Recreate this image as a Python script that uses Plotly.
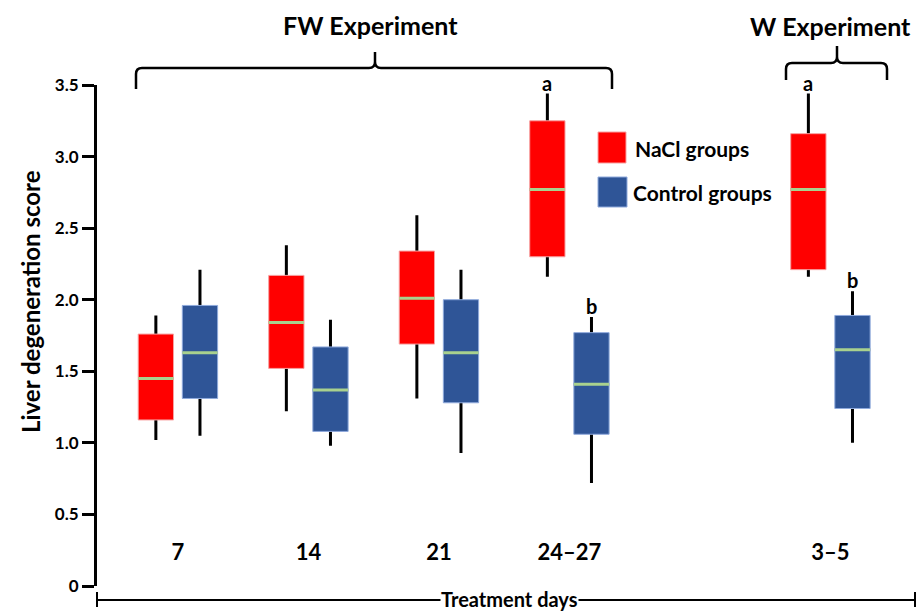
import plotly.graph_objects as go

# ---------------- data ----------------
days = ["7", "14", "21", "24–27", "3–5"]
day_pos = [0, 1, 2, 3, 5]

nacl_min = [1.02, 1.22, 1.31, 2.16, 2.16]
nacl_q1 = [1.16, 1.52, 1.69, 2.30, 2.21]
nacl_med = [1.45, 1.84, 2.01, 2.77, 2.77]
nacl_q3 = [1.76, 2.17, 2.34, 3.25, 3.16]
nacl_max = [1.89, 2.38, 2.59, 3.44, 3.44]

ctrl_min = [1.05, 0.98, 0.93, 0.72, 1.00]
ctrl_q1 = [1.31, 1.08, 1.28, 1.06, 1.24]
ctrl_med = [1.63, 1.37, 1.63, 1.41, 1.65]
ctrl_q3 = [1.96, 1.67, 2.00, 1.77, 1.89]
ctrl_max = [2.21, 1.86, 2.21, 1.88, 2.06]

nacl_letters = ["", "", "", "a", "a"]
ctrl_letters = ["", "", "", "b", "b"]

y_ticks = [0, 0.5, 1.0, 1.5, 2.0, 2.5, 3.0, 3.5]
y_ticktext = ["0", "0.5", "1.0", "1.5", "2.0", "2.5", "3.0", "3.5"]

# ---------------- style ----------------
FONT = "Lato"
RED = "#FF0000"
RED_EDGE = "#F7A1A1"
BLUE = "#2F5597"
BLUE_EDGE = "#8FAADC"
MED = "#A9D18E"
BOXGAP = 0.324
BOXGROUPGAP = 0.2

W, H = 920, 613
ML, MR, MT, MB = 97, 5, 85, 27
PW, PH = W - ML - MR, H - MT - MB


def px(xp):
    return (xp - ML) / PW


def py(yp):
    return (H - MB - yp) / PH


fig = go.Figure()


def add_group(mn, q1, med, q3, mx, fill, edge, og):
    common = dict(x=day_pos, offsetgroup=og, hoverinfo="skip", showlegend=False,
                  boxpoints=False, whiskerwidth=0)
    # whiskers
    fig.add_trace(go.Box(q1=med, median=med, q3=med, lowerfence=mn, upperfence=mx,
                         line=dict(color="black", width=3), fillcolor=fill, **common))
    # box body
    fig.add_trace(go.Box(q1=q1, median=med, q3=q3, lowerfence=q1, upperfence=q3,
                         line=dict(color=edge, width=1), fillcolor=fill, **common))
    # median line
    fig.add_trace(go.Box(q1=med, median=med, q3=med, lowerfence=med, upperfence=med,
                         line=dict(color=MED, width=3), fillcolor=MED, **common))


add_group(nacl_min, nacl_q1, nacl_med, nacl_q3, nacl_max, RED, RED_EDGE, "nacl")
add_group(ctrl_min, ctrl_q1, ctrl_med, ctrl_q3, ctrl_max, BLUE, BLUE_EDGE, "ctrl")

annotations = []
offset = (1 - BOXGAP) / 4
for p, mx, t in zip(day_pos, nacl_max, nacl_letters):
    if t:
        annotations.append(dict(x=p - offset, y=mx, xref="x", yref="y", text=f"<b>{t}</b>",
                                showarrow=False, xanchor="center", yanchor="bottom", yshift=-3,
                                font=dict(family=FONT, size=20, color="black")))
for p, mx, t in zip(day_pos, ctrl_max, ctrl_letters):
    if t:
        annotations.append(dict(x=p + offset, y=mx, xref="x", yref="y", text=f"<b>{t}</b>",
                                showarrow=False, xanchor="center", yanchor="bottom", yshift=-3,
                                font=dict(family=FONT, size=20, color="black")))


def note(xp, yp, text, size, xanchor="center", **kw):
    annotations.append(dict(x=px(xp), y=py(yp), xref="paper", yref="paper", text=text,
                            showarrow=False, xanchor=xanchor, yanchor="middle",
                            font=dict(family=FONT, size=size, color="black"), **kw))


note(370, 25, "<b>FW Experiment</b>", 25)
note(830, 26, "<b>W Experiment</b>", 25)
note(30, 302, "<b>Liver degeneration score</b>", 24, textangle=-90)
note(633, 148, "<b>NaCl groups</b>", 21, xanchor="left")
note(631, 192, "<b>Control groups</b>", 21, xanchor="left")
note(509, 599, "<b>Treatment days</b>", 20, bgcolor="white", borderpad=0)

shapes = []


def brace(x0, x1, xm, yh, yend, ypeak):
    r = 6
    X0, X1, XM = px(x0), px(x1), px(xm)
    YH, YE, YP = py(yh), py(yend), py(ypeak)
    dx = r / PW
    dy = r / PH
    path = (f"M {X0},{YE} L {X0},{YH - dy} Q {X0},{YH} {X0 + dx},{YH} "
            f"L {XM - dx},{YH} Q {XM},{YH} {XM},{YH + dy} L {XM},{YP} "
            f"M {XM},{YH + dy} Q {XM},{YH} {XM + dx},{YH} "
            f"L {X1 - dx},{YH} Q {X1},{YH} {X1},{YH - dy} L {X1},{YE}")
    shapes.append(dict(type="path", xref="paper", yref="paper", path=path,
                       line=dict(color="black", width=2.5)))


brace(136, 612, 375, 68, 89, 52)
brace(786, 887, 837, 63, 80, 46)

# legend squares
shapes.append(dict(type="rect", xref="paper", yref="paper", x0=px(598), x1=px(626),
                   y0=py(163), y1=py(132), fillcolor=RED, line=dict(color=RED_EDGE, width=1)))
shapes.append(dict(type="rect", xref="paper", yref="paper", x0=px(598), x1=px(627),
                   y0=py(207), y1=py(177), fillcolor=BLUE, line=dict(color=BLUE_EDGE, width=1)))

# treatment days line with end ticks
shapes.append(dict(type="line", xref="paper", yref="paper", x0=px(97), x1=px(915),
                   y0=py(600), y1=py(600), line=dict(color="black", width=2)))
shapes.append(dict(type="line", xref="paper", yref="paper", x0=px(97), x1=px(97),
                   y0=py(592), y1=py(607), line=dict(color="black", width=2)))
shapes.append(dict(type="line", xref="paper", yref="paper", x0=px(915), x1=px(915),
                   y0=py(592), y1=py(607), line=dict(color="black", width=2)))

fig.update_layout(
    width=W, height=H,
    margin=dict(l=ML, r=MR, t=MT, b=MB),
    plot_bgcolor="white", paper_bgcolor="white",
    boxmode="group", boxgap=BOXGAP, boxgroupgap=BOXGROUPGAP,
    showlegend=False,
    annotations=annotations,
    shapes=shapes,
    font=dict(family=FONT, color="black"),
    xaxis=dict(range=[-0.62, 5.648], tickvals=day_pos, ticktext=[f"<b>{d}</b>" for d in days],
               anchor="free", position=py(537), ticks="", showline=False, showgrid=False,
               zeroline=False, tickfont=dict(family=FONT, size=22, color="black")),
    yaxis=dict(range=[0, 3.5], tickvals=y_ticks, ticktext=[f"<b>{t}</b>" for t in y_ticktext],
               ticks="outside", ticklen=12, tickwidth=3, tickcolor="black",
               showline=True, linewidth=3, linecolor="black", showgrid=False, zeroline=False,
               tickfont=dict(family=FONT, size=17, color="black")),
)

fig.write_html("out.html", config={"displayModeBar": False},
               post_script="document.body.style.margin='0';")
